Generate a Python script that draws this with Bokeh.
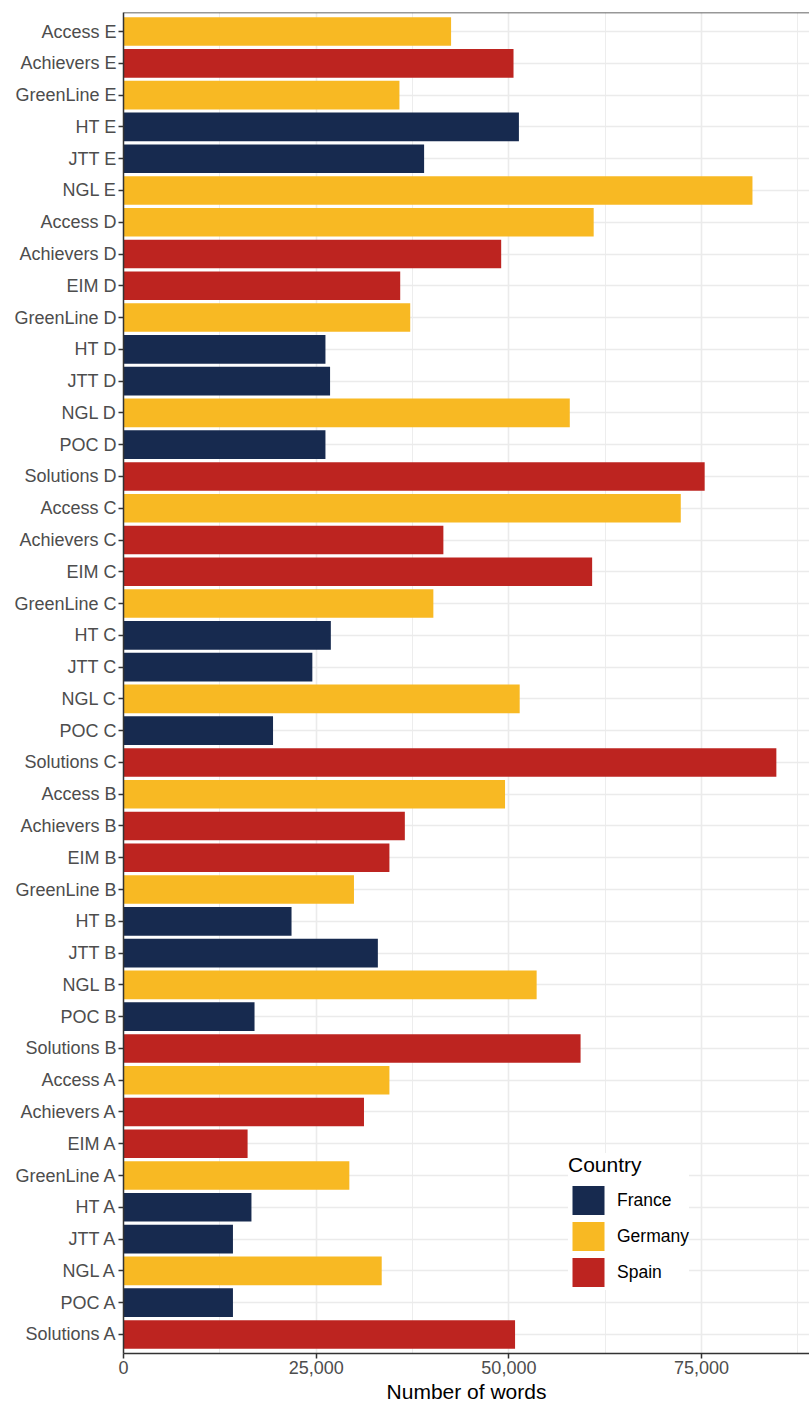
from bokeh.plotting import figure
from bokeh.models import (ColumnDataSource, FactorRange, Range1d, FixedTicker,
                          NumeralTickFormatter, Legend, LegendItem, Span)
from bokeh.embed import file_html
from bokeh.resources import INLINE

# Data (top to bottom as in the chart)
books = ["Access E", "Achievers E", "GreenLine E", "HT E", "JTT E", "NGL E",
         "Access D", "Achievers D", "EIM D", "GreenLine D", "HT D", "JTT D", "NGL D", "POC D", "Solutions D",
         "Access C", "Achievers C", "EIM C", "GreenLine C", "HT C", "JTT C", "NGL C", "POC C", "Solutions C",
         "Access B", "Achievers B", "EIM B", "GreenLine B", "HT B", "JTT B", "NGL B", "POC B", "Solutions B",
         "Access A", "Achievers A", "EIM A", "GreenLine A", "HT A", "JTT A", "NGL A", "POC A", "Solutions A"]
words = [42500, 50600, 35800, 51300, 39000, 81600,
         61000, 49000, 35900, 37200, 26200, 26800, 57900, 26200, 75400,
         72300, 41500, 60800, 40200, 26900, 24500, 51400, 19400, 84700,
         49500, 36500, 34500, 29900, 21800, 33000, 53600, 17000, 59300,
         34500, 31200, 16100, 29300, 16600, 14200, 33500, 14200, 50800]
country = ["Germany", "Spain", "Germany", "France", "France", "Germany",
           "Germany", "Spain", "Spain", "Germany", "France", "France", "Germany", "France", "Spain",
           "Germany", "Spain", "Spain", "Germany", "France", "France", "Germany", "France", "Spain",
           "Germany", "Spain", "Spain", "Germany", "France", "France", "Germany", "France", "Spain",
           "Germany", "Spain", "Spain", "Germany", "France", "France", "Germany", "France", "Spain"]
countries = ["France", "Germany", "Spain"]
colors = ["#172A4F", "#F8B923", "#BD2420"]
x_ticks = [0, 25000, 50000, 75000]
x_minor = [12500, 37500, 62500, 87500]

FONT = "Liberation Sans"

p = figure(width=809, height=1405,
           y_range=FactorRange(factors=books[::-1], range_padding=0.1,
                               range_padding_units="absolute"),
           x_range=Range1d(0, 89000),
           output_backend="svg", toolbar_location=None,
           min_border_left=123, min_border_right=0,
           min_border_top=12, min_border_bottom=52)
p.background_fill_color = "white"
p.border_fill_color = "white"
p.outline_line_color = None

items = []
for c, col in zip(countries, colors):
    idx = [i for i, cc in enumerate(country) if cc == c]
    src = ColumnDataSource(dict(book=[books[i] for i in idx],
                                words=[words[i] for i in idx]))
    r = p.hbar(y="book", left=0, right="words", height=0.9, source=src,
               fill_color=col, line_color=None)
    items.append(LegendItem(label=c, renderers=[r]))

# grids
p.xgrid.ticker = FixedTicker(ticks=x_ticks, minor_ticks=x_minor)
p.xgrid.grid_line_color = "#EBEBEB"
p.xgrid.grid_line_width = 1.6
p.xgrid.minor_grid_line_color = "#EBEBEB"
p.xgrid.minor_grid_line_width = 0.9
p.ygrid.grid_line_color = "#EBEBEB"
p.ygrid.grid_line_width = 1.6

# axes
p.xaxis.ticker = FixedTicker(ticks=x_ticks, minor_ticks=[])
p.xaxis.formatter = NumeralTickFormatter(format="0,0")
p.xaxis.axis_label = "Number of words"
for ax in (p.xaxis[0], p.yaxis[0]):
    ax.axis_line_color = "#333333"
    ax.axis_line_width = 1.5
    ax.major_tick_line_color = "#333333"
    ax.major_tick_line_width = 1.5
    ax.major_tick_out = 5
    ax.major_tick_in = 0
    ax.minor_tick_line_color = None
    ax.major_label_text_font = FONT
    ax.major_label_text_font_size = "18px"
    ax.major_label_text_color = "#4D4D4D"
    ax.major_label_standoff = 2
    ax.axis_label_text_font = FONT
    ax.axis_label_text_font_size = "21px"
    ax.axis_label_text_font_style = "normal"
    ax.axis_label_text_color = "black"
    ax.axis_label_standoff = 3

# top border of panel
p.add_layout(Span(location=42.1, dimension="width", line_color="#333333", line_width=1.5))

legend = Legend(items=items, title="Country", location=(445, 63),
                glyph_width=40, glyph_height=36, spacing=0, label_height=36,
                label_standoff=9, padding=9, margin=0,
                label_text_font=FONT, label_text_font_size="17.5px",
                label_text_color="black",
                title_text_font=FONT, title_text_font_size="21px",
                title_text_font_style="normal", title_text_color="black",
                title_standoff=5,
                background_fill_color="white", background_fill_alpha=1.0,
                border_line_color=None)
p.add_layout(legend, "center")

open("out.html", "w").write(file_html(p, INLINE))
